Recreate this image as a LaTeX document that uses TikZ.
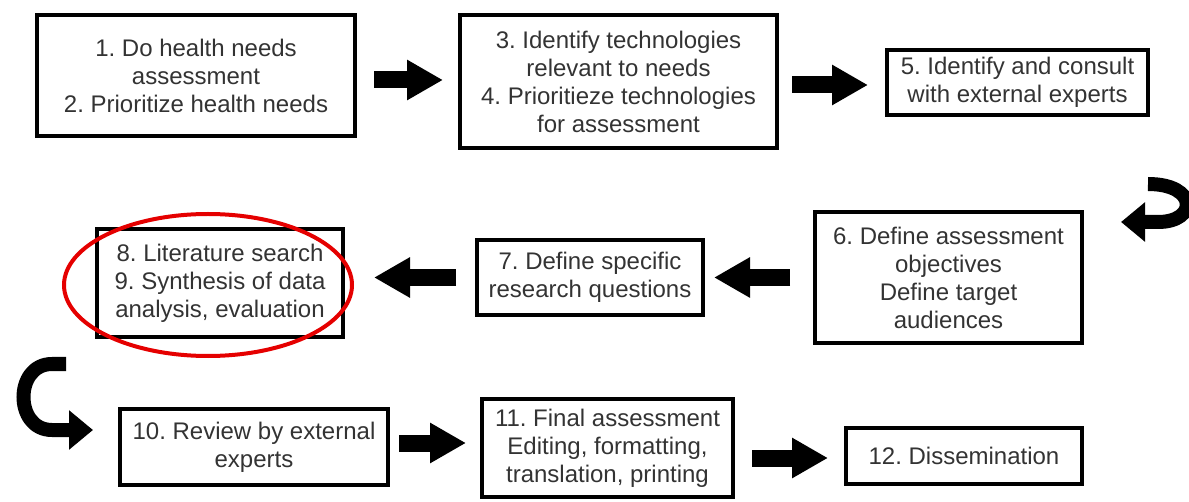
\documentclass[tikz,border=0pt]{standalone}
\usepackage{fontspec}
\setmainfont{Liberation Sans}
\usetikzlibrary{arrows.meta}
\frenchspacing

\begin{document}
\begin{tikzpicture}[
  x=0.5pt, y=-0.5pt,
  font=\fontsize{12}{14}\selectfont,
  stage/.style={draw, line width=2pt, align=center, inner sep=1pt,
                text=black!80},
  fwd/.style={-{Triangle[length=18pt, width=19pt]}, line width=8.5pt},
  hook/.style={-{Triangle[length=12pt, width=19pt]}, line width=7pt},
  ring/.style={draw=red!90!black, line width=2pt}
]
\useasboundingbox (0,0) rectangle (1189,502);
% first row
\node[stage, minimum width=159pt, minimum height=60.5pt] (s1) at (196,75.5)
  {1. Do health needs\\assessment\\2. Prioritize health needs};
\node[stage, minimum width=158.5pt, minimum height=66.5pt] (s2) at (618.5,81.5)
  {3. Identify technologies\\relevant to needs\\4. Prioritieze technologies\\for assessment};
\node[stage, minimum width=130.5pt, minimum height=32.5pt] (s3) at (1017.5,82.5)
  {5. Identify and consult\\with external experts};
% second row
\node[stage, minimum width=133.5pt, minimum height=65.5pt] (s6) at (948.5,277.5)
  {6. Define assessment\\objectives\\Define target\\audiences};
\node[stage, minimum width=113pt, minimum height=37.5pt] (s7) at (590,277.5)
  {7. Define specific\\research questions};
\node[stage, minimum width=123pt, minimum height=54pt] (s8) at (220,283)
  {8. Literature search\\9. Synthesis of data\\analysis, evaluation};
% third row
\node[stage, minimum width=134pt, minimum height=38pt] (s10) at (254,447)
  {10. Review by external\\experts};
\node[stage, minimum width=125.5pt, minimum height=49pt] (s11) at (607.5,448)
  {11. Final assessment\\Editing, formatting,\\translation, printing};
\node[stage, minimum width=118pt, minimum height=28pt] (s12) at (964,456)
  {12. Dissemination};
% highlight on steps 8 and 9
\draw[ring] (s8.center) ++(-12,2) ellipse [x radius=72pt, y radius=35.5pt];
% arrows along the rows
\draw[fwd, shorten <=8.5pt, shorten >=7.5pt]
  ([yshift=-2.25pt]s1.east) -- ([yshift=-2.25pt]s1.east -| s2.west);
\draw[fwd, shorten <=6.5pt, shorten >=8.5pt]
  ([yshift=-1.75pt]s2.east) -- ([yshift=-1.75pt]s2.east -| s3.west);
\draw[fwd, shorten <=11.5pt, shorten >=4.5pt] (s6.west) -- (s6.west -| s7.east);
\draw[fwd, shorten <=9.5pt, shorten >=14.5pt] (s7.west) -- (s7.west -| s8.east);
\draw[fwd, shorten <=4.5pt, shorten >=7pt]
  ([yshift=2pt]s10.east) -- ([yshift=2pt]s10.east -| s11.west);
\draw[fwd, shorten <=8.5pt, shorten >=8pt]
  ([yshift=-5pt]s11.east) -- ([yshift=-5pt]s11.east -| s12.west);
% turns between the rows
\coordinate (turnR) at (1148,184);
\coordinate (turnL) at (66,364);
\draw[hook] (turnR) .. controls +(50,0) and +(40,0) .. ++(10,38) -- ++(-37,0);
\draw[hook] (turnL) -- ++(-14,0) .. controls +(-38,0) and +(-38,0) .. ++(0,66) -- ++(41,0);
\end{tikzpicture}
\end{document}
